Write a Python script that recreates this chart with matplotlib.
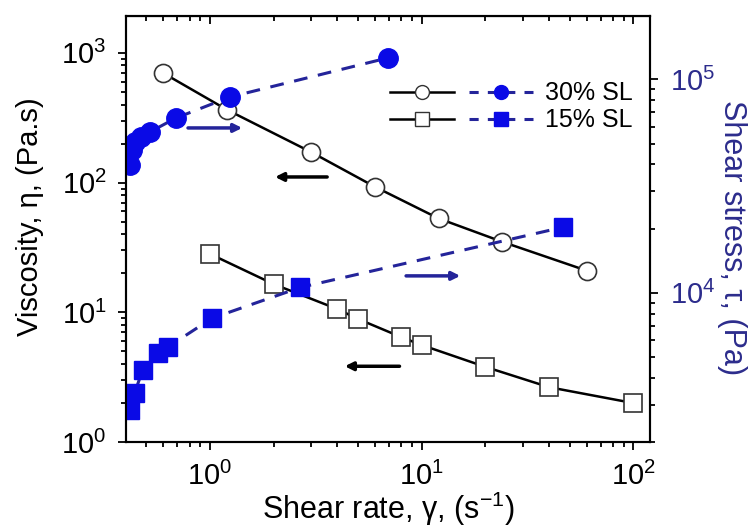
import matplotlib
matplotlib.use("Agg")
import matplotlib.pyplot as plt
from matplotlib.lines import Line2D
from matplotlib.legend_handler import HandlerTuple

plt.rcParams['font.family'] = 'Liberation Sans'
plt.rcParams['mathtext.fontset'] = 'custom'
plt.rcParams['mathtext.rm'] = 'Liberation Sans'
plt.rcParams['mathtext.it'] = 'Liberation Sans:italic'

# viscosity (left axis)
rate30 = [0.6, 1.2, 3, 6, 12, 24, 60]
visc30 = [700, 365, 172, 93, 53, 35, 21]
rate15 = [1, 2, 4, 5, 8, 10, 20, 40, 100]
visc15 = [28.2, 16.5, 10.6, 8.9, 6.45, 5.6, 3.8, 2.65, 2.0]

# shear stress (right axis)
rate30_s = [0.42, 0.43, 0.44, 0.47, 0.52, 0.69, 1.24, 6.9]
stress30 = [39600, 46600, 50800, 53600, 56600, 65800, 82500, 125700]
rate15_s = [0.42, 0.44, 0.48, 0.57, 0.63, 1.02, 2.67, 46.7]
stress15 = [2820, 3390, 4340, 5210, 5560, 7600, 10600, 20300]

labels = ['30% SL', '15% SL']

navy = '#24249a'
blue = '#0a0ae6'
tblue = '#2c2c8c'

fig = plt.figure(figsize=(7.5, 5.27), dpi=100)
ax = fig.add_axes([0.168, 0.161, 0.699, 0.809])
ax.set_xscale('log')
ax.set_yscale('log')

ax.plot(rate30, visc30, '-o', color='k', lw=1.8, ms=13, mfc='white', mec='#333333', mew=1.2)
ax.plot(rate15, visc15, '-s', color='k', lw=1.8, ms=12.5, mfc='white', mec='#333333', mew=1.2)
ax.set_xlim(0.401, 120)
ax.set_ylim(1, 1930)

ax.set_xlabel('Shear rate, γ, (s$^{-1}$)', fontsize=22)
ax.set_ylabel('Viscosity, η, (Pa.s)', fontsize=21)
ax.xaxis.set_label_coords(0.5, -0.112)
ax.yaxis.set_label_coords(-0.156, 0.53)

ax.tick_params(which='both', direction='out', labelsize=21, width=1.3, pad=8)
ax.tick_params(which='major', length=6)
ax.tick_params(which='minor', length=3.5)
for s in ax.spines.values():
    s.set_linewidth(1.5)

top = ax.secondary_xaxis('top')
top.tick_params(which='both', direction='in', labeltop=False, width=1.3)
top.tick_params(which='major', length=6)
top.tick_params(which='minor', length=3.5)

ax2 = ax.twinx()
ax2.set_yscale('log')
ax2.plot(rate30_s, stress30, '--o', color=navy, lw=2.2, dashes=(4.5, 3.5), ms=14, mfc=blue, mec=blue)
ax2.plot(rate15_s, stress15, '--s', color=navy, lw=2.2, dashes=(4.5, 3.5), ms=13, mfc=blue, mec=blue)
ax2.set_ylim(2000, 198000)
ax2.set_ylabel('Shear stress, τ, (Pa)', fontsize=22, color=tblue, rotation=270, va='bottom')
ax2.yaxis.set_label_coords(1.128, 0.48)
ax2.tick_params(which='both', direction='out', labelsize=21, labelcolor=tblue, width=1.3, pad=8)
ax2.tick_params(which='major', length=6)
ax2.tick_params(which='minor', length=3.5)
for s in ax2.spines.values():
    s.set_linewidth(1.5)

# arrows pointing to the axis each curve belongs to
arrow_k = dict(arrowstyle='-|>', color='k', lw=2.5, mutation_scale=12)
arrow_b = dict(arrowstyle='-|>', color=navy, lw=2.5, mutation_scale=12)
ax2.annotate('', xy=(0.227, 0.737), xytext=(0.113, 0.737), xycoords='axes fraction', arrowprops=arrow_b)
ax2.annotate('', xy=(0.279, 0.622), xytext=(0.389, 0.622), xycoords='axes fraction', arrowprops=arrow_k)
ax2.annotate('', xy=(0.643, 0.390), xytext=(0.529, 0.390), xycoords='axes fraction', arrowprops=arrow_b)
ax2.annotate('', xy=(0.412, 0.178), xytext=(0.527, 0.178), xycoords='axes fraction', arrowprops=arrow_k)

h30a = Line2D([], [], color='k', lw=1.8, marker='o', ms=10, mfc='white', mec='#333333')
h30b = Line2D([], [], color=navy, lw=2.2, ls='--', dashes=(3, 3), marker='o', ms=10, mfc=blue, mec=blue)
h15a = Line2D([], [], color='k', lw=1.8, marker='s', ms=9.5, mfc='white', mec='#333333')
h15b = Line2D([], [], color=navy, lw=2.2, ls='--', dashes=(3, 3), marker='s', ms=9.5, mfc=blue, mec=blue)
ax2.legend([(h30a, h30b), (h15a, h15b)], labels,
           handler_map={tuple: HandlerTuple(ndivide=None, pad=0.6)},
           loc='upper left', bbox_to_anchor=(0.504, 0.846), frameon=False,
           fontsize=18, handlelength=5.7, handletextpad=0.5, labelspacing=0.12,
           borderpad=0, borderaxespad=0)

fig.savefig('out.png', dpi=100)
